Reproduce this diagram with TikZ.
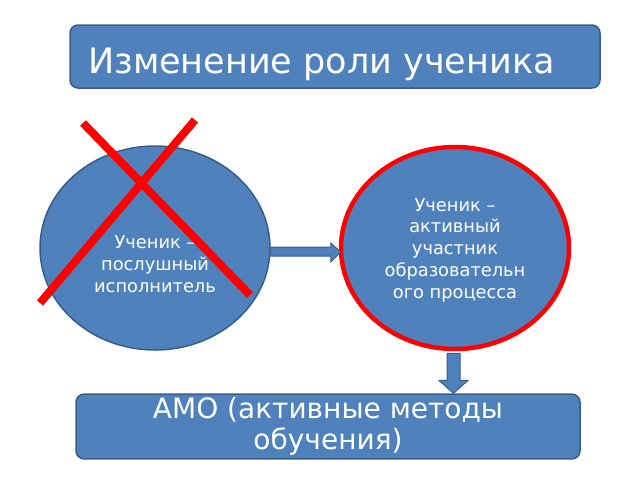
\documentclass[tikz,border=0pt]{standalone}
\usepackage{fontspec}
\setmainfont{DejaVu Sans}
\usetikzlibrary{shapes.geometric,calc}
\definecolor{boxfill}{RGB}{79,129,189}
\definecolor{boxline}{RGB}{56,93,138}
\definecolor{xred}{RGB}{255,0,0}
\tikzset{
  bluebox/.style={draw=boxline, line width=1.5pt, fill=boxfill, rounded corners=8pt, text=white},
  blueoval/.style={ellipse, draw=boxline, line width=1.5pt, fill=boxfill, text=white, align=center,
     inner sep=0pt},
  ovaltext/.style={text=white, align=center, inner sep=0pt, font=\fontsize{17.8}{21.7}\selectfont},
  blockarrow/.style={draw=boxline, line width=1pt, fill=boxfill},
  cross/.style={draw=xred, line width=8pt}
}
\begin{document}
\begin{tikzpicture}[x=1pt,y=-1pt]
\useasboundingbox (0,0) rectangle (640,480);
% title
\node[bluebox, minimum width=530pt, minimum height=63pt] (title) at (335,56.5) {};
\node[text=white, anchor=base west, inner sep=0pt, font=\fontsize{35}{40}\selectfont] (titletext)
  at (88,73) {Изменение роли ученика};
% ovals
\node[blueoval, minimum width=230pt, minimum height=204pt] (L) at (155,248) {};
\node[ovaltext] (Ltext) at ($(L.center)+(0,16)$) {Ученик –\\послушный\\исполнитель};
\node[blueoval, draw=xred, line width=4.5pt, minimum width=228pt, minimum height=202pt] (R) at (455,248) {};
\node[ovaltext] (Rtext) at ($(R.center)+(0,2)$) {Ученик –\\активный\\участник\\образовательн\\ого процесса};
% bottom box
\node[bluebox, minimum width=504pt, minimum height=63pt, align=center,
      font=\fontsize{28}{31}\selectfont] (B) at (328,426.5) {АМО (активные методы\\обучения)};
% horizontal block arrow
\draw[blockarrow] ($(L.east)+(0,-1)$) -- ($(R.west)+(-8,-1)$) -- ($(R.west)+(-8,-5)$)
   -- ($(R.west)+(2,4)$) -- ($(R.west)+(-8,14)$) -- ($(R.west)+(-8,8)$) -- ($(L.east)+(0,8)$) -- cycle;
% vertical block arrow
\coordinate (dt) at ($(R.south |- B.north)+(-1.5,0)$);
\draw[blockarrow] ($(R.south)+(-8,2)$) -- ($(dt)+(-6.5,-13)$) -- ($(dt)+(-14.5,-13)$) -- (dt)
   -- ($(dt)+(14.5,-13)$) -- ($(dt)+(6.5,-13)$) -- ($(R.south)+(5,2)$) -- cycle;
% red cross
\draw[cross] (83,123) -- (250,295);
\draw[cross] (195,120) -- (40,303);
\end{tikzpicture}
\end{document}
